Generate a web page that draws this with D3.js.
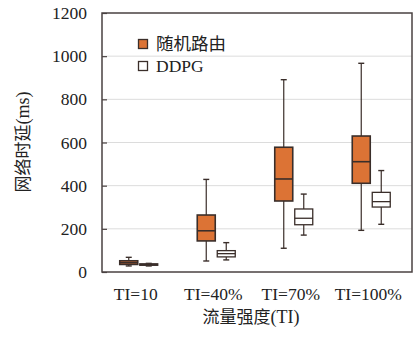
<!DOCTYPE html>
<html><head><meta charset="utf-8">
<script src="https://cdn.jsdelivr.net/npm/d3@7"></script>
<style>
html,body{margin:0;padding:0;background:#fff;}
svg{display:block;}
.serif{font-family:"Liberation Serif","DejaVu Serif",serif;}
.cjk{font-family:"Noto Sans CJK SC",sans-serif;}
</style></head>
<body>
<svg id="chart" width="416" height="340"></svg>
<script>
const categories = ["TI=10", "TI=40%", "TI=70%", "TI=100%"];
const seriesNames = ["随机路由", "DDPG"];
// [min, q1, median, q3, max] per category
const randomRouting = [
  [28, 35, 43, 52, 68],
  [51, 144, 191, 264, 429],
  [110, 329, 431, 578, 891],
  [193, 411, 511, 630, 967]
];
const ddpg = [
  [28, 31, 35, 38, 40],
  [56, 70, 85, 99, 136],
  [171, 219, 249, 292, 361],
  [221, 301, 326, 369, 470]
];
const yTicks = [0, 200, 400, 600, 800, 1000, 1200];
const colors = ["#dc7335", "#ffffff"];

(function () {
const svg = d3.select("#chart");
const pl = 102, pr = 412, pt = 13, pb = 272;
const y = d3.scaleLinear().domain([0, 1200]).range([pb, pt]);
const x = d3.scaleBand().domain(categories).range([100, 410]);
const xs = d3.scaleBand().domain(seriesNames).range([-19, 19]).paddingInner(0.1);

// gridlines
svg.append("g").selectAll("line").data(yTicks.filter(t => t > 0 && t < 1200)).join("line")
  .attr("x1", pl).attr("x2", pr)
  .attr("y1", d => y(d)).attr("y2", d => y(d))
  .attr("stroke", "#dcdcdc").attr("stroke-width", 1);

// y axis (ticks inward)
const yAxis = d3.axisLeft(y).tickValues(yTicks).tickSize(-5).tickPadding(14).tickFormat(d3.format("d"));
const ga = svg.append("g").attr("transform", `translate(${pl},0)`).call(yAxis);
ga.attr("font-family", null).attr("font-size", null);
ga.select(".domain").remove();
ga.selectAll(".tick line").attr("stroke", "#4a4242").attr("stroke-width", 1.2);
ga.selectAll(".tick text").attr("class", "serif").style("font-size", "17.5px").attr("fill", "#222").attr("dx", -1);

// frame
svg.append("rect").attr("x", pl).attr("y", pt).attr("width", pr - pl).attr("height", pb - pt)
  .attr("fill", "none").attr("stroke", "#4a4242").attr("stroke-width", 1.5);

// boxes
const data = [randomRouting, ddpg];
data.forEach((series, si) => {
  const g = svg.append("g");
  series.forEach((v, ci) => {
    const cx = x(categories[ci]) + x.bandwidth() / 2 + xs(seriesNames[si]) + xs.bandwidth() / 2;
    const w = xs.bandwidth();
    const stroke = "#3a2e2a";
    const sw = si === 0 ? 1.6 : 1.3;
    g.append("line").attr("x1", cx).attr("x2", cx).attr("y1", y(v[0])).attr("y2", y(v[1]))
      .attr("stroke", stroke).attr("stroke-width", 1.2);
    g.append("line").attr("x1", cx).attr("x2", cx).attr("y1", y(v[3])).attr("y2", y(v[4]))
      .attr("stroke", stroke).attr("stroke-width", 1.2);
    [v[0], v[4]].forEach(val => {
      g.append("line").attr("x1", cx - 3).attr("x2", cx + 3).attr("y1", y(val)).attr("y2", y(val))
        .attr("stroke", stroke).attr("stroke-width", 1.4);
    });
    g.append("rect").attr("x", cx - w / 2).attr("width", w)
      .attr("y", y(v[3])).attr("height", y(v[1]) - y(v[3]))
      .attr("fill", colors[si]).attr("stroke", stroke).attr("stroke-width", sw);
    g.append("line").attr("x1", cx - w / 2).attr("x2", cx + w / 2).attr("y1", y(v[2])).attr("y2", y(v[2]))
      .attr("stroke", stroke).attr("stroke-width", sw);
  });
});

// x tick labels
svg.append("g").selectAll("text").data(categories).join("text")
  .attr("class", "serif")
  .attr("x", d => x(d) + x.bandwidth() / 2 - 3).attr("y", 300)
  .attr("text-anchor", "middle").style("font-size", "17.5px").attr("fill", "#222")
  .text(d => d);

// x title
svg.append("text").attr("x", 251).attr("y", 323).attr("text-anchor", "middle")
  .attr("fill", "#222").style("font-size", "17px")
  .call(t => {
    t.append("tspan").attr("class", "cjk").text("流量强度");
    t.append("tspan").attr("class", "serif").style("font-size", "18px").text("(TI)");
  });

// y title
svg.append("text").attr("transform", "translate(29,142) rotate(-90)").attr("text-anchor", "middle")
  .attr("fill", "#222").style("font-size", "17px")
  .call(t => {
    t.append("tspan").attr("class", "cjk").text("网络时延");
    t.append("tspan").attr("class", "serif").style("font-size", "18px").text("(ms)");
  });

// legend
const leg = svg.append("g");
seriesNames.forEach((name, i) => {
  const yy = 44 + i * 22;
  leg.append("rect").attr("x", 138.5).attr("y", yy - 4.5).attr("width", 9).attr("height", 9)
    .attr("fill", colors[i]).attr("stroke", "#3a2e2a").attr("stroke-width", 1.3);
  leg.append("text").attr("x", 156).attr("y", yy + 6).attr("fill", "#222")
    .attr("class", i === 0 ? "cjk" : "serif").style("font-size", "17.5px")
    .text(name);
});
})();
</script>
</body></html>
